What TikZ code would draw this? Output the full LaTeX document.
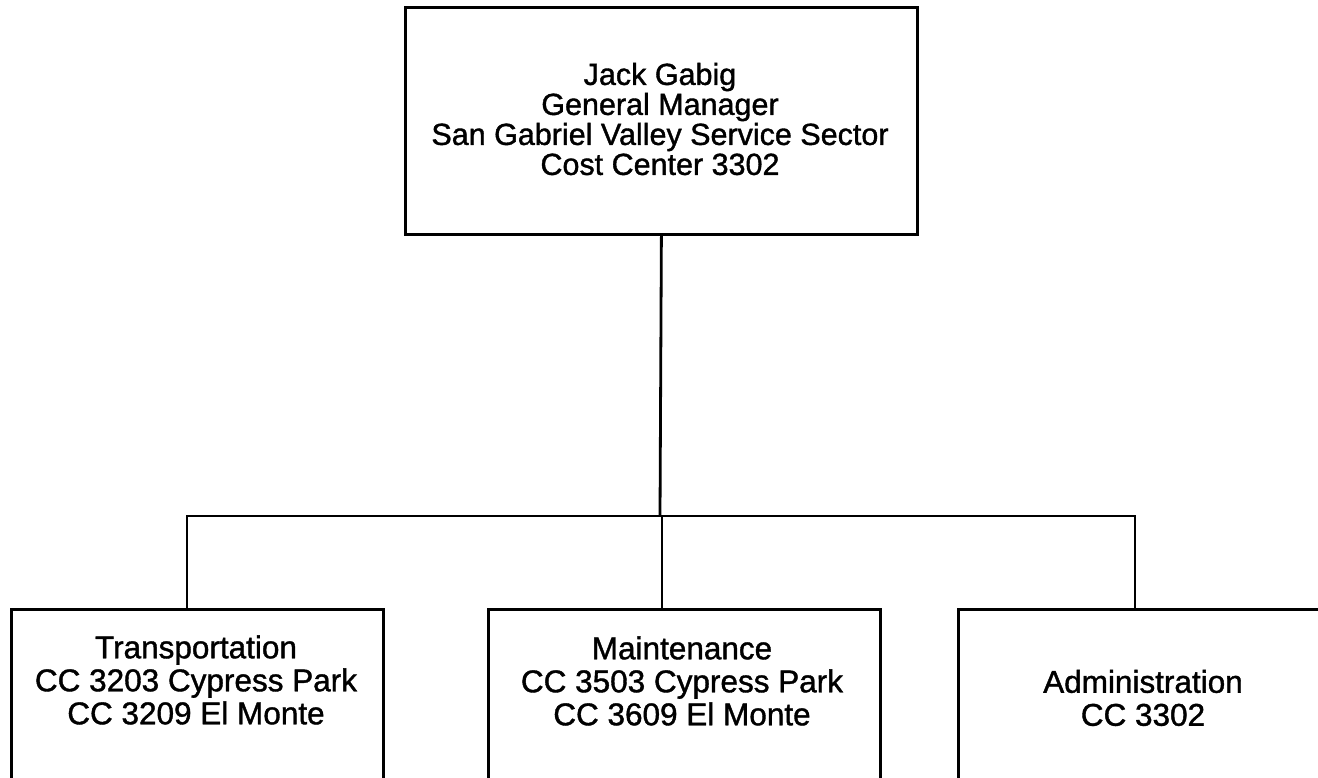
\documentclass[tikz,border=0pt]{standalone}
\usepackage{fontspec}
\setmainfont{Liberation Sans}[FakeBold=1.5]
\newfontfamily\orgfont{Liberation Sans}[FakeBold=1.2]
\begin{document}
\begin{tikzpicture}[x=1pt,y=-1pt,
  orgbox/.style={draw=black,line width=2.8pt,rectangle,inner sep=0pt,anchor=north west},
  toptxt/.style={align=center,font=\orgfont\fontsize{30.5}{30}\selectfont,inner sep=0pt},
  bottxt/.style={align=center,font=\orgfont\fontsize{31.5}{33}\selectfont,inner sep=0pt},
  conn/.style={line width=2.8pt,black}]
\useasboundingbox (0,0) rectangle (1318,778);
\clip (0,0) rectangle (1318,778);
\fill[white] (0,0) rectangle (1318,778);
% boxes
\node[orgbox,minimum width=512pt,minimum height=227pt] (top) at (404,6) {};
\node[orgbox,minimum width=372pt,minimum height=220pt] (trans) at (10,608) {};
\node[orgbox,minimum width=392pt,minimum height=220pt] (maint) at (487,608) {};
\node[orgbox,minimum width=372pt,minimum height=220pt] (admin) at (957,608) {};
% texts
\node[toptxt] (topT) at (660,119) {Jack Gabig\\General Manager\\San Gabriel Valley Service Sector\\Cost Center 3302};
\node[bottxt] (transT) at (196,680) {Transportation\\CC 3203 Cypress Park\\CC 3209 El Monte};
\node[bottxt] (maintT) at (682,681) {Maintenance\\CC 3503 Cypress Park\\CC 3609 El Monte};
\node[bottxt] (adminT) at (1143,698) {Administration\\CC 3302};
% connectors
\coordinate (hc) at (660,516);
\coordinate (hl) at (187,516);
\coordinate (hr) at (1135,516);
\coordinate (hm) at (662,516);
\draw[conn] (top.south) -- (hc);
\draw[conn,line cap=rect] (hl) -- (hr);
\draw[conn] (hl) -- (hl |- trans.north);
\draw[conn] (hm) -- (hm |- maint.north);
\draw[conn] (hr) -- (hr |- admin.north);
\end{tikzpicture}
\end{document}
